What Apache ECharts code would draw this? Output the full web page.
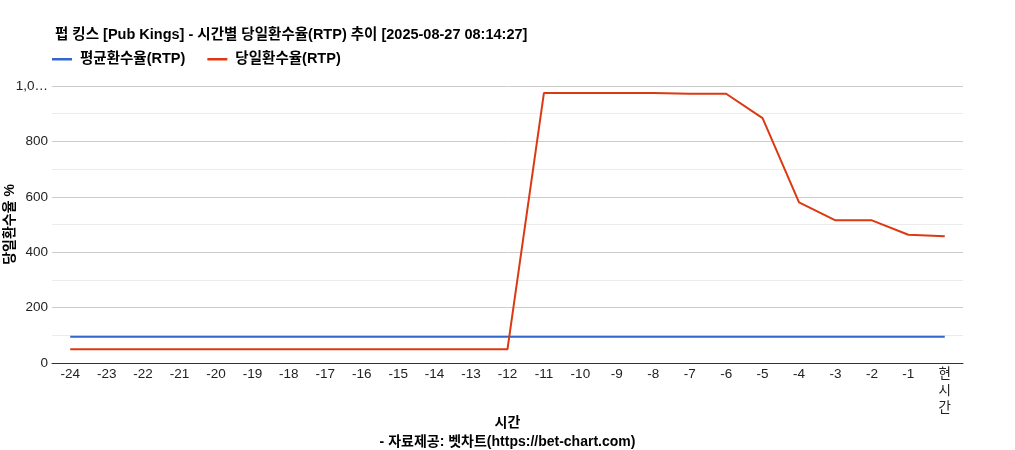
<!DOCTYPE html>
<html><head><meta charset="utf-8">
<script src="https://cdn.jsdelivr.net/npm/echarts@6/dist/echarts.min.js"></script>
<style>html,body{margin:0;padding:0;background:#fff}#c{width:1015px;height:450px}</style>
</head><body><div id="c"></div>
<script>
const categories = ['-24','-23','-22','-21','-20','-19','-18','-17','-16','-15','-14','-13','-12','-11','-10','-9','-8','-7','-6','-5','-4','-3','-2','-1','현시간'];
const avgRtp = [95,95,95,95,95,95,95,95,95,95,95,95,95,95,95,95,95,95,95,95,95,95,95,95,95];
const dayRtp = [50,50,50,50,50,50,50,50,50,50,50,50,50,975,975,975,975,972,972,884,580,515,515,463,458];
const yTicks = {0:'0',200:'200',400:'400',600:'600',800:'800',1000:'1,0…'};

const F = 'Arial, "Liberation Sans", "Noto Sans CJK KR", sans-serif';
const chart = echarts.init(document.getElementById('c'));
chart.setOption({
  animation:false,
  textStyle:{fontFamily:F},
  title:[{
    text:'펍 킹스 [Pub Kings] - 시간별 당일환수율(RTP) 추이 [2025-08-27 08:14:27]',
    left:50, top:23,
    textStyle:{fontSize:14.5, fontWeight:'bold', color:'#000', fontFamily:F}
  },{
    text:'- 자료제공: 벳차트(https://bet-chart.com)',
    left:'center', top:430,
    textStyle:{fontSize:14, fontWeight:'bold', color:'#000', fontFamily:F}
  }],
  legend:{
    left:47, top:47, itemWidth:20, itemHeight:2.5, itemGap:22, icon:'rect',
    textStyle:{fontSize:14.5, fontWeight:'bold', color:'#000', fontFamily:F, padding:[0,0,0,3]},
    data:['평균환수율(RTP)','당일환수율(RTP)']
  },
  grid:{left:52, right:52, top:86, bottom:87, outerBoundsMode:'none', containLabel:false},
  xAxis:{
    type:'category', data:categories, boundaryGap:true,
    name:'시간', nameLocation:'middle', nameGap:53, nameMoveOverlap:false,
    nameTextStyle:{fontSize:14, fontWeight:'bold', color:'#000'},
    axisLine:{lineStyle:{color:'#333', width:1}},
    axisTick:{show:false},
    axisLabel:{interval:0, color:'#222', fontSize:13.5, lineHeight:17, margin:3,
      formatter:v => v === '현시간' ? v.split('').join('\n') : v}
  },
  yAxis:{
    type:'value', min:0, max:1000, interval:200,
    name:'당일환수율 %', nameLocation:'middle', nameGap:35, nameMoveOverlap:false,
    nameTextStyle:{fontSize:14, fontWeight:'bold', color:'#000'},
    axisLine:{show:false}, axisTick:{show:false},
    axisLabel:{color:'#222', fontSize:13.5, margin:4, formatter:v => yTicks[v] ?? String(v)},
    splitLine:{lineStyle:{color:'#cccccc', width:1}},
    minorTick:{show:false, splitNumber:2},
    minorSplitLine:{show:true, lineStyle:{color:'#ebebeb', width:1}}
  },
  series:[{
    name:'평균환수율(RTP)', type:'line', data:avgRtp, symbol:'none',
    lineStyle:{color:'#3366cc', width:2}, itemStyle:{color:'#3366cc'}
  },{
    name:'당일환수율(RTP)', type:'line', data:dayRtp, symbol:'none',
    lineStyle:{color:'#dc3912', width:2}, itemStyle:{color:'#dc3912'}
  }]
});
</script></body></html>
